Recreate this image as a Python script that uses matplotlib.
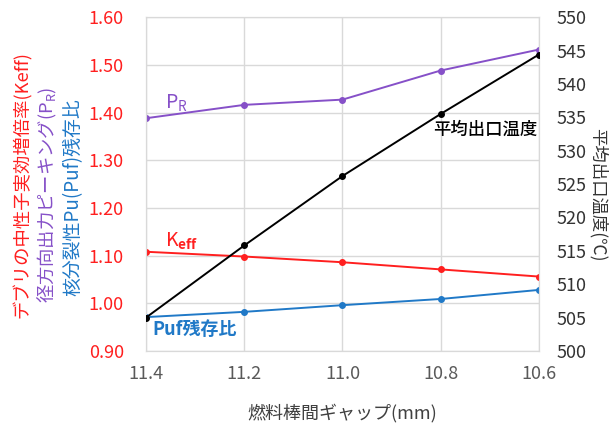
import matplotlib
matplotlib.use("Agg")
import matplotlib.pyplot as plt

plt.rcParams['font.family'] = ['Noto Sans CJK JP', 'DejaVu Sans']
plt.rcParams['mathtext.fontset'] = 'custom'
plt.rcParams['mathtext.rm'] = 'Noto Sans CJK JP'
plt.rcParams['mathtext.bf'] = 'Noto Sans CJK JP:bold'

# Fuel rod gap (mm)
gap = [11.4, 11.2, 11.0, 10.8, 10.6]
# Effective neutron multiplication factor of debris
keff = [1.108, 1.098, 1.086, 1.071, 1.056]
# Radial power peaking factor
peaking = [1.388, 1.416, 1.427, 1.488, 1.532]
# Remaining fissile Pu ratio
puf = [0.971, 0.982, 0.996, 1.009, 1.028]
# Average outlet temperature (°C)
temp = [505.0, 515.8, 526.2, 535.5, 544.4]

left_ticks = [0.90, 1.00, 1.10, 1.20, 1.30, 1.40, 1.50, 1.60]
right_ticks = [500, 505, 510, 515, 520, 525, 530, 535, 540, 545, 550]

RED = '#FF1F1F'
PURPLE = '#8650C8'
BLUE = '#2079C7'
GRID = '#D9D9D9'

fig = plt.figure(figsize=(6.11, 4.28), dpi=100)
ax = fig.add_axes([0.239, 0.180, 0.643, 0.780])
ax2 = ax.twinx()

ax.plot(gap, keff, color=RED, lw=1.4, marker='o', ms=4, zorder=3)
ax.plot(gap, peaking, color=PURPLE, lw=1.4, marker='o', ms=4, zorder=3)
ax.plot(gap, puf, color=BLUE, lw=1.4, marker='o', ms=4, zorder=3)
ax2.plot(gap, temp, color='black', lw=1.4, marker='o', ms=4, zorder=3)

ax.set_xlim(11.4, 10.6)
ax.set_ylim(0.90, 1.60)
ax2.set_ylim(500, 550)
ax.set_xticks(gap)
ax.set_xticklabels([f'{g:.1f}' for g in gap], color='#595959', fontsize=13)
ax.set_yticks(left_ticks)
ax.set_yticklabels([f'{v:.2f}' for v in left_ticks], color=RED, fontsize=13)
ax2.set_yticks(right_ticks)
ax2.set_yticklabels([str(v) for v in right_ticks], color='#333333', fontsize=13)

ax.grid(True, color=GRID, lw=1.0, zorder=0)
ax.set_axisbelow(True)
for a in (ax, ax2):
    for s in a.spines.values():
        s.set_color(GRID)
    a.tick_params(length=0)
ax.tick_params(axis='y', pad=16)
ax2.tick_params(axis='y', pad=13)
ax.tick_params(axis='x', pad=10)

ax.set_xlabel('燃料棒間ギャップ(mm)', fontsize=13, color='#404040', labelpad=15)

# Three-line left axis title, one colour per series
fig.text(0.036, 0.568, 'デブリの中性子実効増倍率(Keff)', rotation=90, color=RED,
         fontsize=13.2, ha='center', va='center')
fig.text(0.078, 0.544, '径方向出力ピーキング(P$_\\mathregular{R}$)', rotation=90,
         color=PURPLE, fontsize=13.2, ha='center', va='center')
fig.text(0.120, 0.540, '核分裂性Pu(Puf)残存比', rotation=90, color=BLUE,
         fontsize=13.6, ha='center', va='center')

fig.text(0.979, 0.544, '平均出口温度(℃)', rotation=270, color='#333333',
         fontsize=12.5, ha='center', va='center')

# Series annotations
ax.text(11.361, 1.42, 'P$_\\mathregular{R}$', color=PURPLE, fontsize=14,
        ha='left', va='center')
ax.text(11.361, 1.129, 'K$_\\mathbf{eff}$', color=RED, fontsize=14,
        ha='left', va='center')
ax.text(11.388, 0.945, 'Puf残存比', color=BLUE, fontsize=13, fontweight='bold',
        ha='left', va='center')
ax.text(10.71, 1.363, '平均出口温度', color='black', fontsize=12.5,
        fontweight='medium', ha='center', va='center')

fig.savefig('out.png', dpi=100)
